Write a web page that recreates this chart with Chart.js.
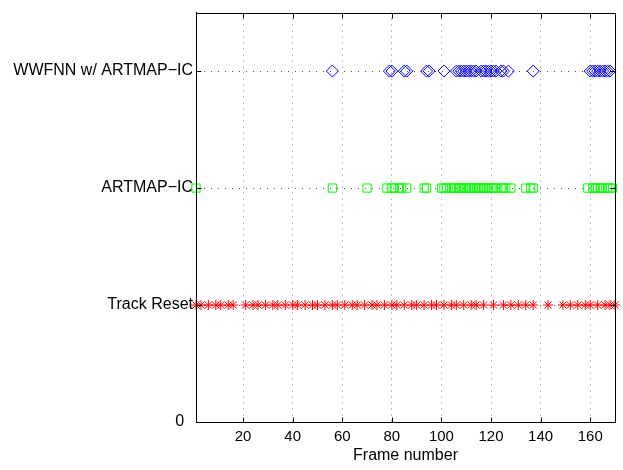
<!DOCTYPE html>
<html>
<head>
<meta charset="utf-8">
<script src="https://cdn.jsdelivr.net/npm/chart.js@4/dist/chart.umd.min.js"></script>
<style>
  body { margin: 0; background: #fff; }
  #wrap { width: 623px; height: 470px; }
</style>
</head>
<body>
<div id="wrap"><canvas id="chart" width="623" height="470"></canvas></div>
<script>
// frames where each event was flagged
const wwfnnFrames = [56, 79, 80, 85, 86, 94, 95, 101, 106, 107, 108, 109, 110, 111, 112, 113, 114,
    116, 117, 118, 119, 120, 121, 122, 124, 125, 127, 137, 160, 161, 162, 163, 164, 165, 166, 167, 168];
const artmapFrames = [1, 56, 70, 78, 80, 81, 83, 84, 86, 93, 94, 100, 101, 102, 104, 105, 106, 107,
    108, 109, 110, 111, 112, 113, 114, 115, 116, 117, 118, 119, 120, 121, 122, 124, 125, 126, 128,
    134, 136, 137, 159, 161, 162, 163, 164, 165, 167, 168, 169];
const resetFrames = [1, 3, 6, 9, 11, 14, 16, 21, 24, 26, 29, 32, 34, 37, 40, 42, 45, 48, 50, 53,
    56, 58, 61, 64, 66, 69, 72, 74, 77, 80, 82, 85, 88, 90, 93, 96, 98, 101, 104, 106, 109, 112,
    114, 117, 121, 125, 128, 131, 134, 137, 143, 149, 152, 155, 158, 160, 163, 166, 168, 170];

const yLevels = [0, 1, 2, 3];
const yLabels = ["0  ", "Track Reset", "ARTMAP\u2212IC", "WWFNN w/ ARTMAP\u2212IC"];
const xTicks = [20, 40, 60, 80, 100, 120, 140, 160];

const toPoints = (frames, level) => frames.map(f => ({ x: f, y: level }));
const fam = "'Liberation Sans', Arial, sans-serif";

// box around the axes + inward tick marks like matlab
const boxPlugin = {
    id: "box",
    afterDraw(chart) {
        const a = chart.chartArea;
        const ctx = chart.ctx;
        const xs = chart.scales.x, ys = chart.scales.y;
        const L = Math.round(a.left) + 0.5, R = Math.round(a.right) + 0.5;
        const T = Math.round(a.top) + 0.5, B = Math.round(a.bottom) + 0.5;
        ctx.save();
        ctx.strokeStyle = "#000";
        ctx.lineWidth = 1;
        ctx.strokeRect(L, T, R - L, B - T);
        ctx.beginPath();
        xTicks.forEach(v => {
            const px = Math.round(xs.getPixelForValue(v)) + 0.5;
            ctx.moveTo(px, B); ctx.lineTo(px, B - 5);
            ctx.moveTo(px, T); ctx.lineTo(px, T + 5);
        });
        yLevels.forEach(v => {
            const py = Math.round(ys.getPixelForValue(v)) + 0.5;
            ctx.moveTo(L, py); ctx.lineTo(L + 5, py);
            ctx.moveTo(R, py); ctx.lineTo(R - 5, py);
        });
        ctx.stroke();
        ctx.restore();
    }
};

new Chart(document.getElementById("chart"), {
    type: "scatter",
    data: {
        datasets: [
            {
                data: toPoints(resetFrames, 1),
                pointStyle: "star",
                radius: 5,
                borderColor: "#ff0000",
                backgroundColor: "transparent",
                borderWidth: 1,
                clip: false
            },
            {
                data: toPoints(artmapFrames, 2),
                pointStyle: "rect",
                radius: 5.8,
                borderColor: "#00ff00",
                backgroundColor: "transparent",
                borderWidth: 1,
                clip: false
            },
            {
                data: toPoints(wwfnnFrames, 3),
                pointStyle: "rectRot",
                radius: 6,
                borderColor: "#0000ff",
                backgroundColor: "transparent",
                borderWidth: 1,
                clip: false
            }
        ]
    },
    options: {
        responsive: false,
        animation: false,
        layout: { padding: { top: 12, right: 8, bottom: 0, left: 0 } },
        plugins: {
            legend: { display: false },
            tooltip: { enabled: false }
        },
        scales: {
            x: {
                type: "linear",
                min: 1,
                max: 170,
                afterBuildTicks: s => { s.ticks = xTicks.map(v => ({ value: v })); },
                afterFit: s => { s.height = 48; },
                ticks: { color: "#000", font: { family: fam, size: 15 }, padding: 6, maxRotation: 0 },
                grid: { color: "#888", drawTicks: false },
                border: { color: "#000", dash: [1, 5] },
                title: {
                    display: true,
                    text: "Frame number",
                    color: "#000",
                    font: { family: fam, size: 16 },
                    padding: { top: 0, bottom: 5 }
                }
            },
            y: {
                type: "linear",
                min: 0,
                max: 3.5,
                afterBuildTicks: s => { s.ticks = yLevels.map(v => ({ value: v })); },
                afterFit: s => { s.width = 196; },
                ticks: {
                    color: "#000",
                    font: { family: fam, size: 16 },
                    padding: 3,
                    callback: v => yLabels[yLevels.indexOf(v)]
                },
                grid: { color: "#555", drawTicks: false },
                border: { color: "#000", dash: [1, 6] }
            }
        }
    },
    plugins: [boxPlugin]
});
</script>
</body>
</html>
